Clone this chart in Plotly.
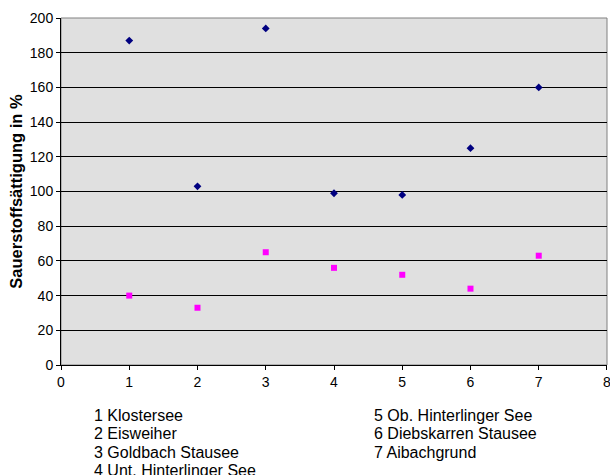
import plotly.graph_objects as go

x_vals = [1, 2, 3, 4, 5, 6, 7]
series_a = [187, 103, 194, 99, 98, 125, 160]
series_b = [40, 33, 65, 56, 52, 44, 63]
y_title = "Sauerstoffsättigung in %"
legend_col1 = ["1 Klostersee", "2 Eisweiher", "3 Goldbach Stausee", "4 Unt. Hinterlinger See"]
legend_col2 = ["5 Ob. Hinterlinger See", "6 Diebskarren Stausee", "7 Aibachgrund"]

FONT = "Liberation Sans, Arial, sans-serif"

fig = go.Figure()
fig.add_trace(go.Scatter(x=x_vals, y=series_a, mode="markers",
                         marker=dict(symbol="diamond", size=6, color="#000080"),
                         showlegend=False))
fig.add_trace(go.Scatter(x=x_vals, y=series_b, mode="markers",
                         marker=dict(symbol="square", size=6, color="#FF00FF"),
                         showlegend=False))

L, R, T, B = 61, 3, 18, 110
W, H = 610, 475
pw = W - L - R
ph = H - T - B

def px_to_paper_x(px):
    return (px - L) / pw

def px_to_paper_y(py):
    return (H - B - py) / ph

for i, t in enumerate(legend_col1):
    fig.add_annotation(text=t, x=px_to_paper_x(92), y=px_to_paper_y(415 + i * 18.5),
                       xref="paper", yref="paper", xanchor="left", yanchor="middle",
                       showarrow=False, font=dict(family=FONT, size=16, color="black"))
for i, t in enumerate(legend_col2):
    fig.add_annotation(text=t, x=px_to_paper_x(372), y=px_to_paper_y(415 + i * 18.5),
                       xref="paper", yref="paper", xanchor="left", yanchor="middle",
                       showarrow=False, font=dict(family=FONT, size=16, color="black"))

fig.update_layout(
    width=W, height=H,
    margin=dict(l=L, r=R, t=T, b=B, autoexpand=False),
    paper_bgcolor="white",
    plot_bgcolor="#E0E0E0",
    font=dict(family=FONT, size=14, color="black"),
    xaxis=dict(range=[0, 8.0001], tickvals=[0, 1, 2, 3, 4, 5, 6, 7, 8],
               showgrid=False, zeroline=False, automargin=False,
               showline=True, linecolor="black", linewidth=1, mirror=False,
               ticks="outside", ticklen=4, tickcolor="black",
               ticklabeloverflow="allow",
               tickfont=dict(size=14)),
    yaxis=dict(range=[0, 200], dtick=20, tick0=0, showgrid=True, gridcolor="black",
               gridwidth=1, zeroline=False, showline=True, linecolor="black",
               linewidth=1, ticks="outside", ticklen=4, tickcolor="black",
               tickfont=dict(size=14), automargin=False,
               title=dict(text="<b>" + y_title + "</b>", font=dict(size=16.5), standoff=3)),
    shapes=[dict(type="rect", xref="paper", yref="paper", x0=0, x1=1, y0=0, y1=1,
                 line=dict(color="#808080", width=1), fillcolor="rgba(0,0,0,0)", layer="below")],
)

fig.write_html("out.html")
